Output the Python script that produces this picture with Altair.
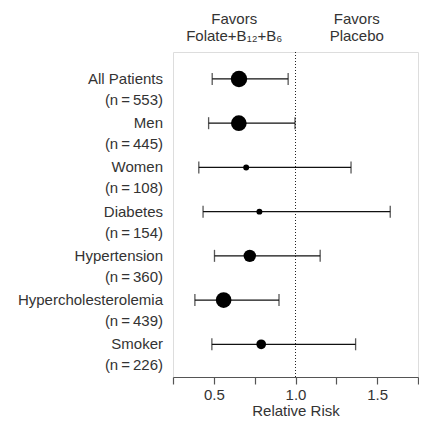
import altair as alt
import pandas as pd

groups = ["All Patients", "Men", "Women", "Diabetes", "Hypertension",
          "Hypercholesterolemia", "Smoker"]
counts = [553, 445, 108, 154, 360, 439, 226]
rr = [0.654, 0.653, 0.698, 0.779, 0.72, 0.56, 0.79]
ci_low = [0.49, 0.468, 0.408, 0.434, 0.504, 0.384, 0.488]
ci_high = [0.955, 0.997, 1.34, 1.58, 1.151, 0.899, 1.368]
weight_diam = [18.5, 17.7, 6.7, 6.7, 14.0, 17.7, 11.0]

x_ticks = [0.25, 0.5, 0.75, 1.0, 1.25, 1.5, 1.75]
x_domain = [0.25, 1.75]
ref_value = 1.0
header_top = ["Favors", "Favors"]
header_bottom = ["Folate+B\u2081\u2082+B\u2086", "Placebo"]

FONT = "Liberation Sans"
TXT = "#333333"

df = pd.DataFrame({
    "row": list(range(len(groups))),
    "group": groups,
    "nlabel": [f"(n\u2009=\u2009{n})" for n in counts],
    "rr": rr,
    "lo": ci_low,
    "hi": ci_high,
    "area": [3.14159 / 4 * d * d for d in weight_diam],
})

hdr = pd.DataFrame({
    "xm": [(x_domain[0] + ref_value) / 2, (ref_value + x_domain[1]) / 2],
    "top": header_top,
    "bottom": header_bottom,
})
ref = pd.DataFrame({"ref": [ref_value]})

xscale = alt.Scale(domain=x_domain, nice=False, zero=False)
yscale = alt.Scale(domain=[-0.61, 6.74], reverse=True, nice=False, zero=False)

x_axis = alt.Axis(
    values=x_ticks,
    labelExpr="(round(datum.value*100) % 50 == 0) ? format(datum.value, '.1f') : ''",
    title="Relative Risk", grid=False,
    domainColor="#555555", tickColor="#555555", tickSize=7, domainWidth=1.2, tickWidth=1.2,
    labelFont=FONT, labelFontSize=15, labelColor=TXT, labelPadding=3,
    titleFont=FONT, titleFontSize=15, titleFontWeight="normal", titleColor=TXT, titlePadding=1,
)

Y = alt.Y("row:Q", scale=yscale, axis=None)

refline = alt.Chart(ref).mark_rule(color="#222222", strokeDash=[1, 2], strokeWidth=1).encode(
    x=alt.X("ref:Q", scale=xscale, axis=x_axis)
)

bars = alt.Chart(df).mark_rule(color="#111111", strokeWidth=1.3).encode(
    x=alt.X("lo:Q", scale=xscale, axis=x_axis), x2="hi:Q", y=Y
)
cap_lo = alt.Chart(df).mark_tick(color="#111111", thickness=1.3, size=12, orient="vertical").encode(
    x=alt.X("lo:Q", scale=xscale, axis=x_axis), y=Y
)
cap_hi = alt.Chart(df).mark_tick(color="#111111", thickness=1.3, size=12, orient="vertical").encode(
    x=alt.X("hi:Q", scale=xscale, axis=x_axis), y=Y
)
dots = alt.Chart(df).mark_circle(color="black", opacity=1).encode(
    x=alt.X("rr:Q", scale=xscale, axis=x_axis), y=Y,
    size=alt.Size("area:Q", scale=None, legend=None),
)

lab1 = alt.Chart(df).mark_text(align="right", baseline="middle", font=FONT, fontSize=15, color=TXT).encode(
    x=alt.value(-10), y=Y, text="group:N"
)
lab2 = alt.Chart(df).mark_text(align="right", baseline="middle", font=FONT, fontSize=15, color=TXT, dy=21).encode(
    x=alt.value(-10), y=Y, text="nlabel:N"
)

h1 = alt.Chart(hdr).mark_text(align="center", baseline="middle", font=FONT, fontSize=15, color=TXT).encode(
    x=alt.X("xm:Q", scale=xscale, axis=x_axis), y=alt.value(-33), text="top:N"
)
h2 = alt.Chart(hdr).mark_text(align="center", baseline="middle", font=FONT, fontSize=15, color=TXT).encode(
    x=alt.X("xm:Q", scale=xscale, axis=x_axis), y=alt.value(-16), text="bottom:N"
)

chart = alt.layer(refline, bars, cap_lo, cap_hi, dots, lab1, lab2, h1, h2).properties(
    width=245, height=325,
    autosize=alt.AutoSizeParams(type="none"),
    padding={"left": 165, "top": 44, "right": 1, "bottom": 42},
).configure_view(stroke=None).configure(background="white")

chart.save("out.html", embed_options={"renderer": "svg", "actions": False})
